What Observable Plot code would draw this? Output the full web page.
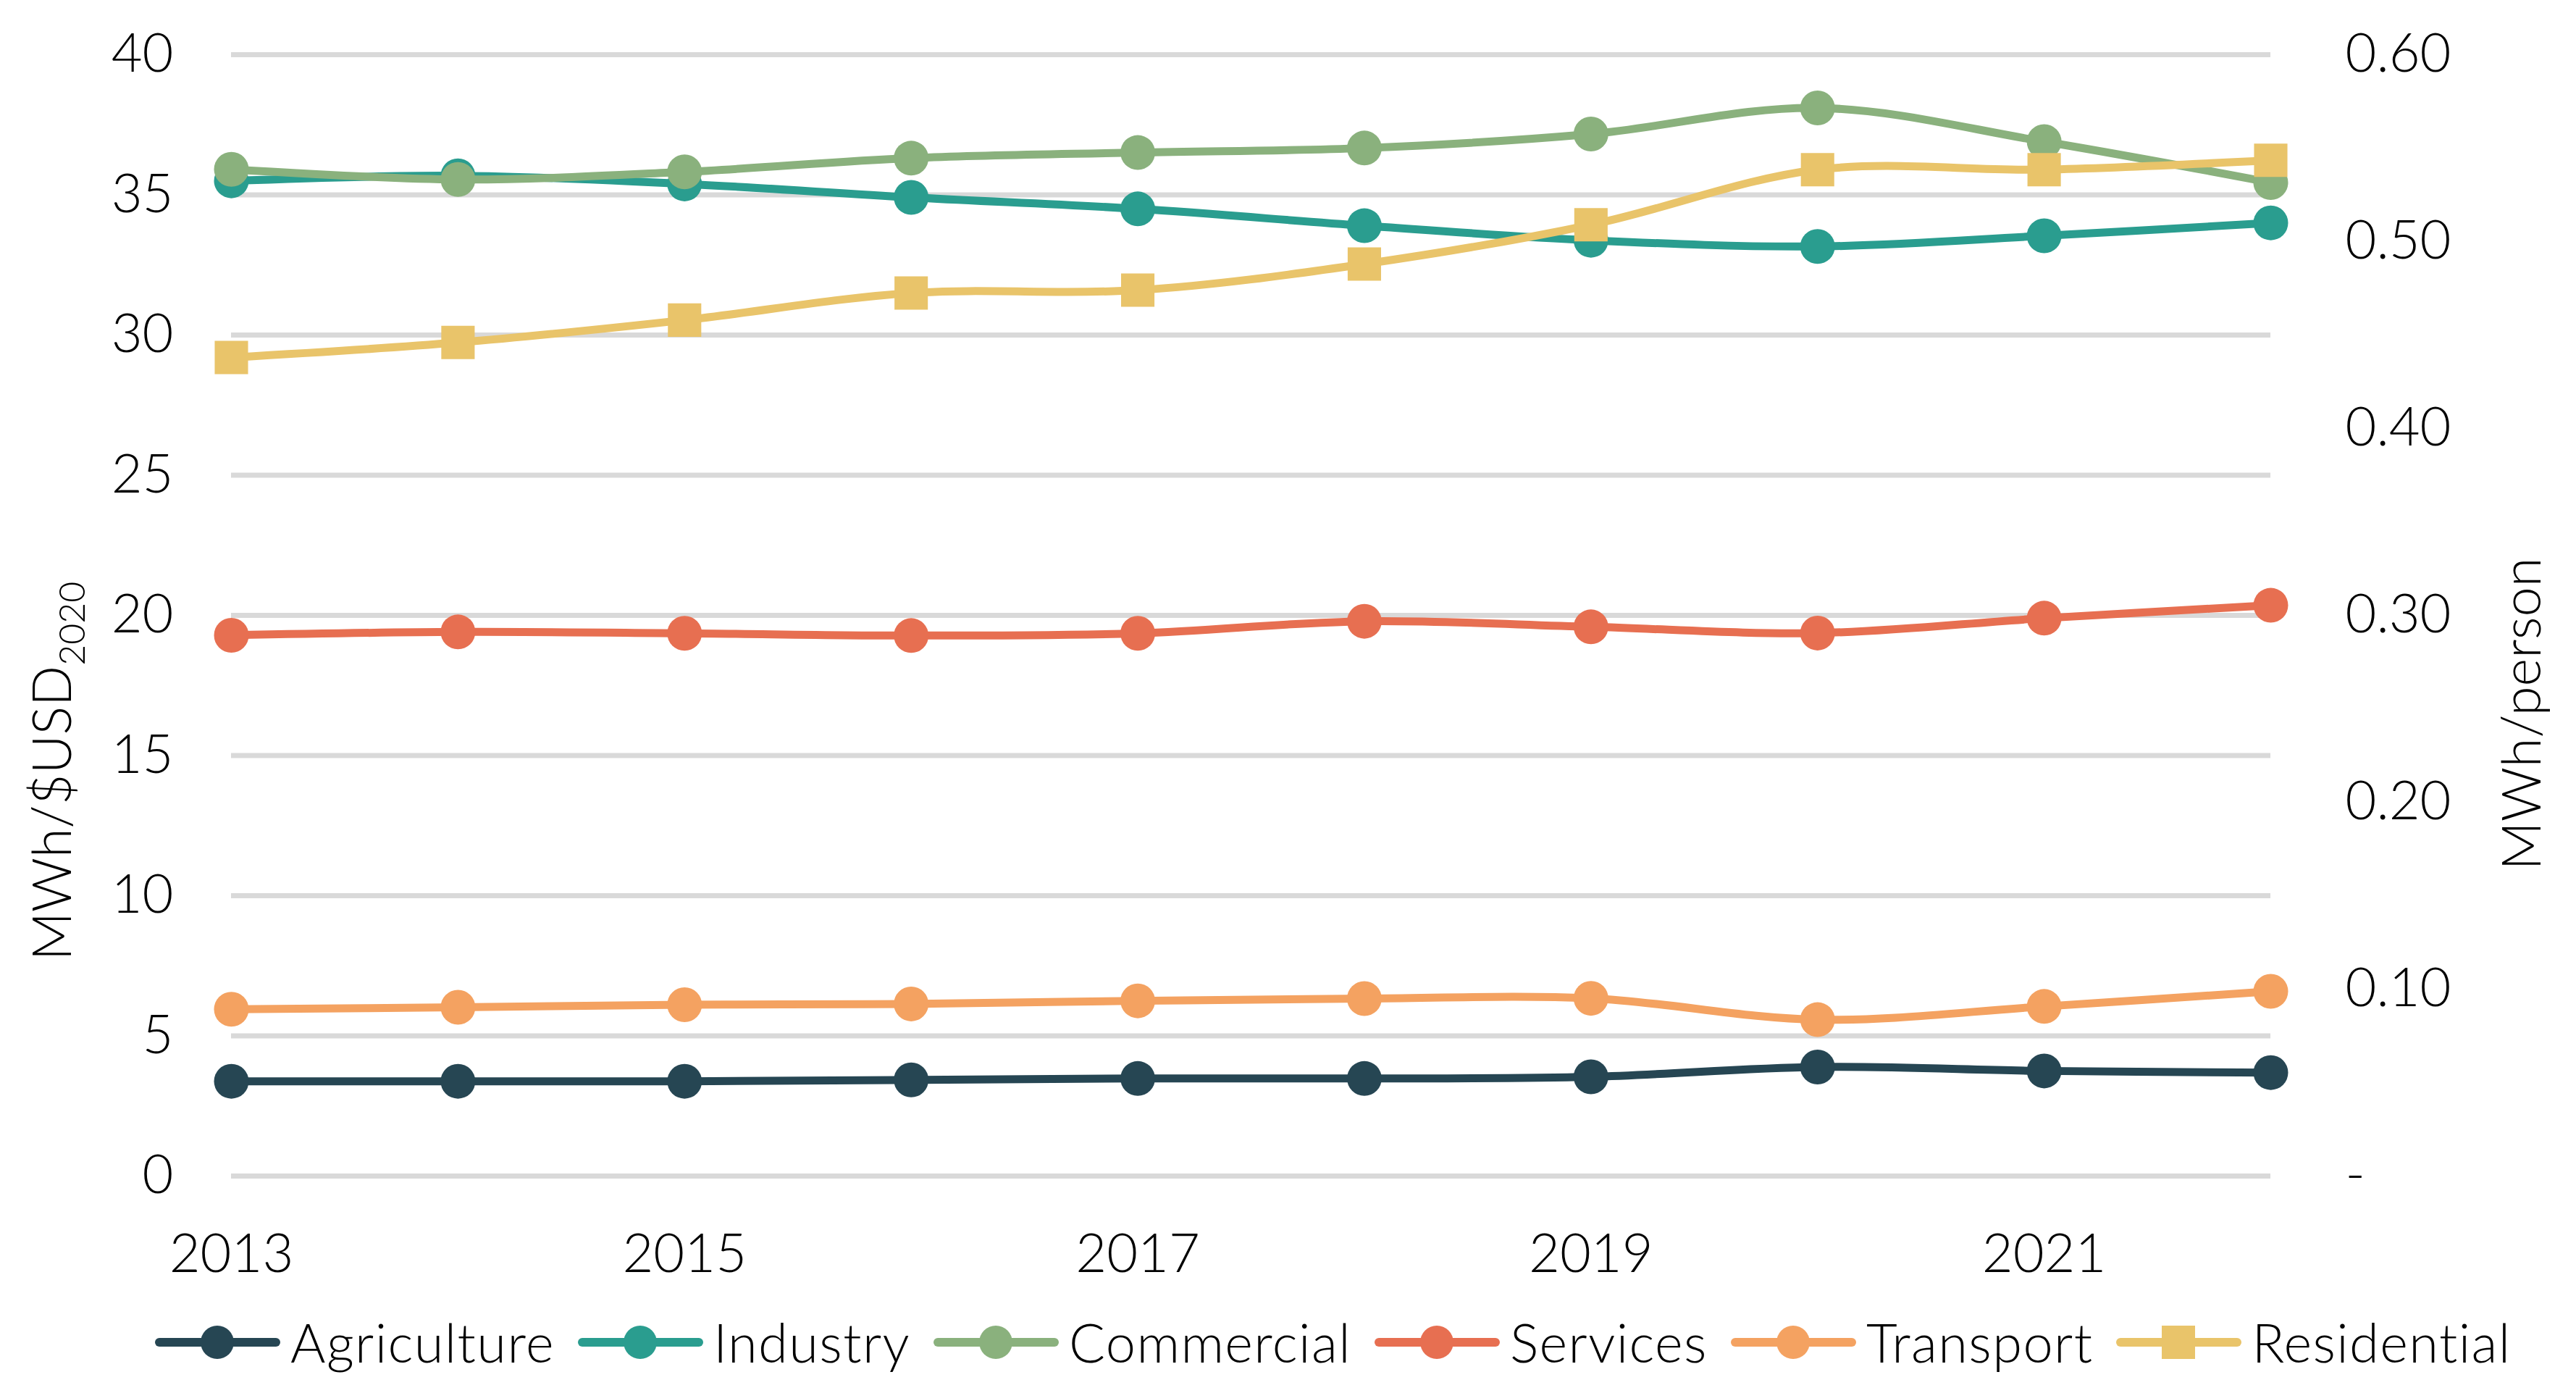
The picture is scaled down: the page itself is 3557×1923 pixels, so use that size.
<!DOCTYPE html>
<html><head><meta charset="utf-8">
<script src="https://cdn.jsdelivr.net/npm/d3@7"></script>
<script src="https://cdn.jsdelivr.net/npm/@observablehq/plot@0.6"></script>
<style>
html,body{margin:0;padding:0;background:#fff;}
#chart{width:3557px;height:1923px;position:relative;overflow:hidden;font-family:Lato,"Open Sans",sans-serif;}
#legend{position:absolute;left:214px;top:1791px;height:123px;display:flex;align-items:center;font-family:Lato,"Open Sans",sans-serif;font-size:74px;font-weight:300;letter-spacing:1.4px;color:#000;}
.item{display:flex;align-items:center;margin-right:32px;}
.sw{position:relative;width:173px;height:12px;border-radius:6px;margin-right:14px;}
.mk{position:absolute;left:63px;top:-17px;width:46px;height:46px;border-radius:50%;}
.mk.sq{border-radius:0;}
</style></head>
<body><div id="chart"><div id="plot"></div><div id="legend"></div></div>
<script>
const years = [2013, 2014, 2015, 2016, 2017, 2018, 2019, 2020, 2021, 2022];
const agriculture = [3.38, 3.38, 3.38, 3.43, 3.48, 3.48, 3.54, 3.89, 3.75, 3.69];
const industry    = [35.5, 35.68, 35.39, 34.91, 34.5, 33.9, 33.38, 33.16, 33.54, 34.0];
const commercial  = [35.91, 35.55, 35.82, 36.31, 36.51, 36.67, 37.17, 38.1, 36.9, 35.44];
const services    = [19.29, 19.41, 19.36, 19.28, 19.36, 19.79, 19.59, 19.37, 19.9, 20.36];
const transport   = [5.95, 6.02, 6.11, 6.14, 6.25, 6.33, 6.34, 5.58, 6.05, 6.59];
// Residential on the right axis (MWh/person)
const residential = [0.438, 0.446, 0.458, 0.4725, 0.474, 0.488, 0.509, 0.5385, 0.5385, 0.5435];

const names  = ["Agriculture", "Industry", "Commercial", "Services", "Transport", "Residential"];
const colors = ["#264653", "#2A9D8F", "#8AB17D", "#E76F51", "#F4A261", "#E9C46A"];
const leftTicks  = [0, 5, 10, 15, 20, 25, 30, 35, 40];
const rightTicks = [0, 0.1, 0.2, 0.3, 0.4, 0.5, 0.6];
const xTicks = [2013, 2015, 2017, 2019, 2021];
const leftLabel = "MWh/$USD";
const leftLabelSub = "2020";
const rightLabel = "MWh/person";

const k = 40 / 0.6; // right-axis units -> left-axis units
const seriesValues = [agriculture, industry, commercial, services, transport, residential.map(v => v * k)];
const symbols = ["circle", "circle", "circle", "circle", "circle", "square"];

const marks = [
  Plot.ruleY(leftTicks, {stroke: "#D9D9D9", strokeWidth: 7})
];
names.forEach((name, s) => {
  const rows = years.map((y, i) => ({year: y, value: seriesValues[s][i]}));
  marks.push(Plot.line(rows, {x: "year", y: "value", stroke: colors[s], strokeWidth: 11, curve: "catmull-rom"}));
  marks.push(Plot.dot(rows, {x: "year", y: "value", fill: colors[s], r: symbols[s] === "square" ? 26 : 24, symbol: symbols[s]}));
});
marks.push(
  Plot.axisY(leftTicks, {anchor: "left", tickSize: 0, tickPadding: 80, label: null, fontSize: 74}),
  Plot.axisY(rightTicks.map(v => v * k), {anchor: "right", tickSize: 0, tickPadding: 103, label: null, fontSize: 74,
    tickFormat: d => d === 0 ? "-" : (d / k).toFixed(2)}),
  Plot.axisX(xTicks, {anchor: "bottom", tickSize: 0, tickPadding: 80, label: null, fontSize: 74, tickFormat: d => String(d)}),
  Plot.text([leftLabel + leftLabelSub], {frameAnchor: "left", textAnchor: "middle", dx: -222, dy: 215, rotate: -90, lineAnchor: "bottom", fontSize: 74, fill: "#000"}),
  Plot.text([rightLabel], {frameAnchor: "right", textAnchor: "middle", dx: 372, dy: 136, rotate: -90, lineAnchor: "bottom", fontSize: 74, fill: "#000"})
);

const chart = Plot.plot({
  width: 3557,
  height: 1800,
  marginLeft: 319,
  marginRight: 422,
  marginTop: 75,
  marginBottom: 177,
  x: {domain: [2013, 2022]},
  y: {domain: [0, 40]},
  style: {fontFamily: "Lato, 'Open Sans', sans-serif", fontWeight: 300, color: "#000", background: "#fff"},
  marks
});
d3.select(chart).selectAll("text").filter(function() { return this.textContent === leftLabel + leftLabelSub; })
  .each(function() {
    const t = d3.select(this);
    t.text(leftLabel);
    t.append("tspan").attr("font-size", 50).attr("dy", 19).text(leftLabelSub);
  });
document.getElementById("plot").appendChild(chart);

const legend = d3.select("#legend");
names.forEach((name, s) => {
  const it = legend.append("div").attr("class", "item");
  const sw = it.append("span").attr("class", "sw").style("background", colors[s]);
  sw.append("span").attr("class", symbols[s] === "square" ? "mk sq" : "mk").style("background", colors[s]);
  it.append("span").text(name);
});
</script>
</body></html>
